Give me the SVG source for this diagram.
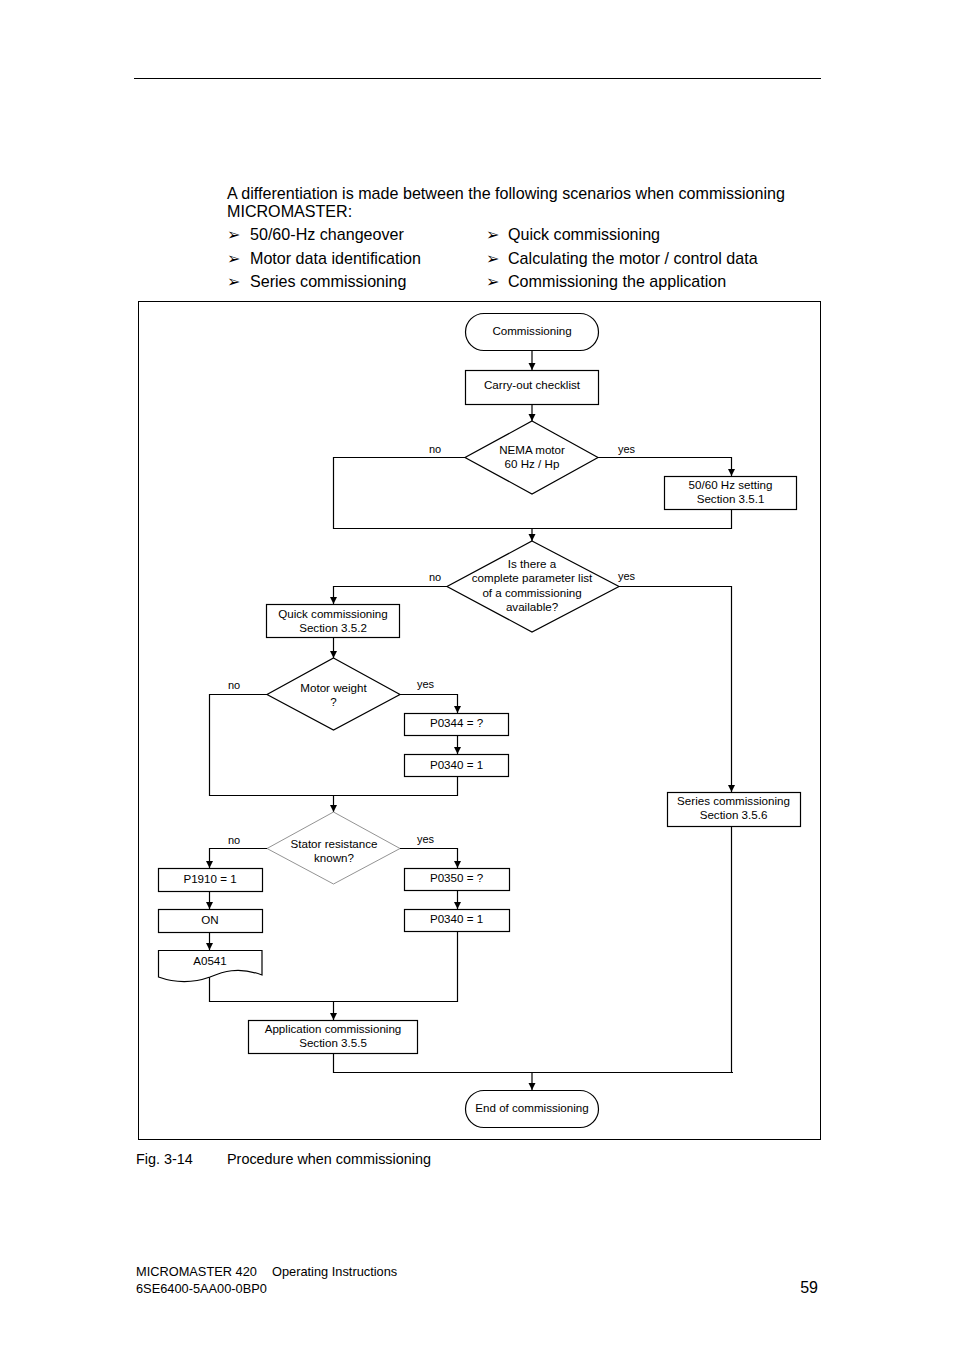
<svg xmlns="http://www.w3.org/2000/svg" width="954" height="1351" viewBox="0 0 954 1351">
<defs>
<style>
.t{font-family:"Liberation Sans",Arial,sans-serif;fill:#000}
.n{font-size:11.6px;text-anchor:middle}
.l{font-size:11px}
.b{font-size:16.1px}
.box{fill:#fff;stroke:#000;stroke-width:1.2}
.c{fill:none;stroke:#000;stroke-width:1.2}
.ca{fill:none;stroke:#000;stroke-width:1.2;marker-end:url(#ah)}
</style>
<marker id="ah" markerWidth="8" markerHeight="8" refX="7" refY="4" orient="auto" markerUnits="userSpaceOnUse">
<path d="M0,0.5 L7,4 L0,7.5 Z" fill="#000"/>
</marker>
</defs>
<rect width="954" height="1351" fill="#fff"/>
<line x1="134" y1="78.5" x2="821" y2="78.5" stroke="#000" stroke-width="1"/>

<g id="intro">
<text class="t b" x="227" y="199">A differentiation is made between the following scenarios when commissioning</text>
<text class="t b" x="227" y="217">MICROMASTER:</text>
<text class="t b" x="227" y="240">➢</text><text class="t b" x="250" y="240">50/60-Hz changeover</text>
<text class="t b" x="227" y="264">➢</text><text class="t b" x="250" y="264">Motor data identification</text>
<text class="t b" x="227" y="287">➢</text><text class="t b" x="250" y="287">Series commissioning</text>
<text class="t b" x="486" y="240">➢</text><text class="t b" x="508" y="240">Quick commissioning</text>
<text class="t b" x="486" y="264">➢</text><text class="t b" x="508" y="264">Calculating the motor / control data</text>
<text class="t b" x="486" y="287">➢</text><text class="t b" x="508" y="287">Commissioning the application</text>
</g>

<rect x="138.5" y="301.5" width="682" height="838" fill="none" stroke="#000" stroke-width="1"/>

<g id="connectors">
<path class="ca" d="M532,350 V370"/>
<path class="ca" d="M532,404 V421"/>
<path class="c" d="M465,457.5 H333.5 V528.5 H731.5 V509"/>
<path class="ca" d="M598,457.5 H731.5 V476"/>
<path class="ca" d="M532,528 V541"/>
<path class="ca" d="M447,586.5 H333.5 V604"/>
<path class="ca" d="M619,586.5 H731.5 V792"/>
<path class="ca" d="M333.5,638 V658"/>
<path class="c" d="M267,694.5 H209.5 V795.5 H457.5 V776"/>
<path class="ca" d="M400,694.5 H457.5 V713"/>
<path class="ca" d="M457.5,735 V754"/>
<path class="ca" d="M333.5,795 V812"/>
<path class="ca" d="M267,848.5 H209.5 V868"/>
<path class="ca" d="M400,848.5 H457.5 V868"/>
<path class="ca" d="M209.5,891 V909"/>
<path class="ca" d="M209.5,932 V950"/>
<path class="ca" d="M457.5,890 V909"/>
<path class="c" d="M209.5,977 V1001.5 H457.5 V931"/>
<path class="ca" d="M333.5,1001 V1020"/>
<path class="c" d="M333.5,1053 V1072.5 H733 M731.5,826 V1072.5"/>
<path class="ca" d="M532,1072 V1090"/>
</g>

<g id="n-start">
<rect class="box" x="465.5" y="313.5" width="133" height="37" rx="18.5"/>
<text class="t n" x="532" y="335">Commissioning</text>
</g>
<g id="n-checklist">
<rect class="box" x="465.5" y="370.5" width="133" height="34"/>
<text class="t n" x="532" y="389">Carry-out checklist</text>
</g>
<g id="n-nema">
<polygon class="box" points="532,421 598,457.5 532,494 465,457.5"/>
<text class="t n" x="532" y="454">NEMA motor</text>
<text class="t n" x="532" y="468">60 Hz / Hp</text>
<text class="t l" x="429" y="453">no</text>
<text class="t l" x="618" y="453">yes</text>
</g>
<g id="n-5060">
<rect class="box" x="664.5" y="476.5" width="132" height="33"/>
<text class="t n" x="730.5" y="489">50/60 Hz setting</text>
<text class="t n" x="730.5" y="503">Section 3.5.1</text>
</g>
<g id="n-paramlist">
<polygon class="box" points="532,541 619,586.5 532,632 447,586.5"/>
<text class="t n" x="532" y="568">Is there a</text>
<text class="t n" x="532" y="582">complete parameter list</text>
<text class="t n" x="532" y="597">of a commissioning</text>
<text class="t n" x="532" y="611">available?</text>
<text class="t l" x="429" y="581">no</text>
<text class="t l" x="618" y="580">yes</text>
</g>
<g id="n-quick">
<rect class="box" x="266.5" y="604.5" width="133" height="33"/>
<text class="t n" x="333" y="618">Quick commissioning</text>
<text class="t n" x="333" y="632">Section 3.5.2</text>
</g>
<g id="n-weight">
<polygon class="box" points="333.5,658 400,694.5 333.5,730 267,694.5"/>
<text class="t n" x="333.5" y="692">Motor weight</text>
<text class="t n" x="333.5" y="706">?</text>
<text class="t l" x="228" y="689">no</text>
<text class="t l" x="417" y="688">yes</text>
</g>
<g id="n-p0344">
<rect class="box" x="404.5" y="713.5" width="104" height="22"/>
<text class="t n" x="456.5" y="727">P0344 = ?</text>
</g>
<g id="n-p0340a">
<rect class="box" x="404.5" y="754.5" width="104" height="22"/>
<text class="t n" x="456.5" y="769">P0340 = 1</text>
</g>
<g id="n-stator">
<polygon points="333.5,812 400,848.5 333.5,884 267,848.5" fill="#fff" stroke="#777" stroke-width="0.8"/>
<text class="t n" x="334" y="848">Stator resistance</text>
<text class="t n" x="334" y="862">known?</text>
<text class="t l" x="228" y="844">no</text>
<text class="t l" x="417" y="843">yes</text>
</g>
<g id="n-p1910">
<rect class="box" x="158.5" y="868.5" width="104" height="23"/>
<text class="t n" x="210" y="883">P1910 = 1</text>
</g>
<g id="n-on">
<rect class="box" x="158.5" y="909.5" width="104" height="23"/>
<text class="t n" x="210" y="924">ON</text>
</g>
<g id="n-a0541">
<path class="box" d="M158.5,950.5 H262 V975 C238,966 222,972 210,977 C196,982 178,984 158.5,977 Z"/>
<text class="t n" x="210" y="965">A0541</text>
</g>
<g id="n-p0350">
<rect class="box" x="404.5" y="868.5" width="105" height="22"/>
<text class="t n" x="456.5" y="882">P0350 = ?</text>
</g>
<g id="n-p0340b">
<rect class="box" x="404.5" y="909.5" width="105" height="22"/>
<text class="t n" x="456.5" y="923">P0340 = 1</text>
</g>
<g id="n-app">
<rect class="box" x="248.5" y="1020.5" width="169" height="33"/>
<text class="t n" x="333" y="1033">Application commissioning</text>
<text class="t n" x="333" y="1047">Section 3.5.5</text>
</g>
<g id="n-series">
<rect class="box" x="667.5" y="792.5" width="133" height="34"/>
<text class="t n" x="733.5" y="805">Series commissioning</text>
<text class="t n" x="733.5" y="819">Section 3.5.6</text>
</g>
<g id="n-end">
<rect class="box" x="465.5" y="1090.5" width="133" height="37" rx="18.5"/>
<text class="t n" x="532" y="1112">End of commissioning</text>
</g>

<g id="caption">
<text class="t" x="136" y="1164" font-size="14.4">Fig. 3-14</text>
<text class="t" x="227" y="1164" font-size="14.4">Procedure when commissioning</text>
</g>
<g id="footer">
<text class="t" x="136" y="1276" font-size="12.8">MICROMASTER 420</text>
<text class="t" x="272" y="1276" font-size="12.8">Operating Instructions</text>
<text class="t" x="136" y="1293" font-size="12.8">6SE6400-5AA00-0BP0</text>
<text class="t" x="818" y="1293" font-size="16" text-anchor="end">59</text>
</g>
</svg>
